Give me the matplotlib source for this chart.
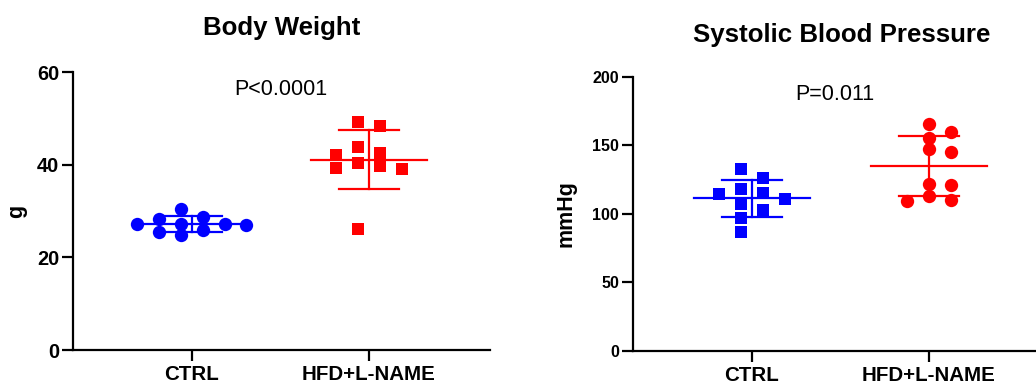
import numpy as np
import matplotlib
matplotlib.use("Agg")
import matplotlib.pyplot as plt

plt.rcParams["font.family"] = ["Liberation Sans", "DejaVu Sans"]

groups = ["CTRL", "HFD+L-NAME"]

# body weight (g)
bw_ctrl = [28.2, 25.4, 30.4, 27.3, 28.8, 25.9, 27.1, 27.3, 24.8, 27.0]
bw_hfd = [48.4, 49.3, 43.8, 42.6, 40.3, 39.3, 39.7, 42.0, 39.1, 26.2]

# systolic blood pressure (mmHg)
sbp_ctrl = [132.4, 115.3, 107.0, 126.1, 117.7, 110.4, 97.0, 86.8, 114.6, 102.4]
sbp_hfd = [159.2, 165.3, 155.2, 146.8, 145.0, 121.9, 120.7, 112.8, 109.0, 110.2]

bw_p = "P<0.0001"
sbp_p = "P=0.011"

BLUE = "#0000FF"
RED = "#FF0000"


def swarm_offsets(values, px_per_y, box_y=11.5):
    """Column scatter on a grid: highest value first, each point goes to the
    nearest free column, then the whole cloud is re-centred."""
    order = np.argsort(values)[::-1]
    cols = {}
    slots = np.zeros(len(values))
    for idx in order:
        y = values[idx] * px_per_y
        k = 0
        while True:
            cands = [0] if k == 0 else [k, -k]
            free = [c for c in cands
                    if all(abs(y - py) >= box_y for py in cols.get(c, []))]
            if free:
                c = free[0]
                break
            k += 1
        cols.setdefault(c, []).append(y)
        slots[idx] = c
    return slots - (slots.max() + slots.min()) / 2.0


def column_plot(ax, data, markers, ymax, yticks, ylabel, title, ptext, pxy,
                title_pad, ylabel_pad):
    ax.set_xlim(-0.672, 1.684)
    ax.set_ylim(0, ymax)
    fig = ax.figure
    fig.canvas.draw()
    bbox = ax.get_window_extent()
    px_per_x = bbox.width / 2.356
    px_per_y = bbox.height / ymax
    step = 21.8 / px_per_x

    for i, (vals, mk, col) in enumerate(zip(data, markers, [BLUE, RED])):
        vals = np.array(vals)
        offs = swarm_offsets(vals, px_per_y) * step
        size = 9.6 if mk == "o" else 8.6
        ax.plot(i + offs, vals, linestyle="none", marker=mk, markersize=size,
                color=col, markeredgewidth=0, zorder=2)
        m = vals.mean()
        sd = vals.std(ddof=1)
        ax.plot([i - 0.33, i + 0.33], [m, m], color=col, lw=1.6, zorder=3)
        ax.plot([i - 0.17, i + 0.17], [m + sd, m + sd], color=col, lw=1.6, zorder=3)
        ax.plot([i - 0.17, i + 0.17], [m - sd, m - sd], color=col, lw=1.6, zorder=3)
        ax.plot([i, i], [m - sd, m + sd], color=col, lw=1.6, zorder=3)

    ax.spines["top"].set_visible(False)
    ax.spines["right"].set_visible(False)
    for s in ["left", "bottom"]:
        ax.spines[s].set_linewidth(1.6)
        ax.spines[s].set_capstyle("projecting")
    ax.set_xticks([0, 1])
    ax.set_xticklabels(groups, fontsize=14.8, fontweight="bold")
    ax.set_yticks(yticks)
    ax.tick_params(axis="both", length=8, width=1.6)
    ax.tick_params(axis="x", pad=3)
    ax.tick_params(axis="y", pad=2)
    ax.set_ylabel(ylabel, fontsize=15.5, fontweight="bold", labelpad=ylabel_pad)
    ax.set_title(title, fontsize=18.6, fontweight="bold", pad=title_pad)
    ax.text(pxy[0], pxy[1], ptext, fontsize=15.5, ha="center", va="baseline")


fig = plt.figure(figsize=(10.36, 3.87), dpi=100)
ax1 = fig.add_axes([0.0705, 0.0956, 0.4025, 0.7183])
ax2 = fig.add_axes([0.611, 0.0943, 0.4025, 0.708])

column_plot(ax1, [bw_ctrl, bw_hfd], ["o", "s"], 60, [0, 20, 40, 60], "g",
            "Body Weight", bw_p, (0.5, 55.0), 27, 7)
for lab in ax1.get_yticklabels():
    lab.set_fontsize(14.4)
    lab.set_fontweight("bold")

column_plot(ax2, [sbp_ctrl, sbp_hfd], ["s", "o"], 200, [0, 50, 100, 150, 200], "mmHg",
            "Systolic Blood Pressure", sbp_p, (0.47, 182.8), 25, 11)
for lab in ax2.get_yticklabels():
    lab.set_fontsize(11.6)
    lab.set_fontweight("bold")

plt.savefig("out.png", dpi=100)
plt.close()
